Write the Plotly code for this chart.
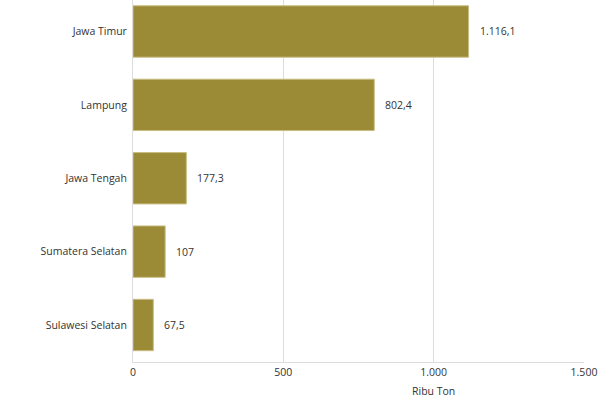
import plotly.graph_objects as go

provinces = ["Jawa Timur", "Lampung", "Jawa Tengah", "Sumatera Selatan", "Sulawesi Selatan"]
values = [1116.1, 802.4, 177.3, 107, 67.5]
value_labels = ["1.116,1", "802,4", "177,3", "107", "67,5"]
x_ticks = [0, 500, 1000, 1500]
x_tick_labels = ["0", "500", "1.000", "1.500"]

FONT = "Open Sans, Noto Sans, sans-serif"
fig = go.Figure()
fig.add_trace(go.Bar(
    y=provinces, x=values, orientation="h",
    marker=dict(color="#9c8b36", line=dict(color="#c9bd83", width=1)),
    width=0.7, hoverinfo="skip",
))
for p, v, t in zip(provinces, values, value_labels):
    fig.add_annotation(x=v, y=p, text=t, xanchor="left", yanchor="middle",
                       xshift=9, showarrow=False,
                       font=dict(size=10.5, color="#333333", family=FONT))
fig.add_annotation(x=1000, y=0, yref="paper", yanchor="middle", text="Ribu Ton",
                   showarrow=False, yshift=-29,
                   font=dict(size=10.5, color="#333333", family=FONT))
fig.update_layout(
    width=602, height=398,
    margin=dict(l=133, r=18, t=0, b=36),
    plot_bgcolor="white", paper_bgcolor="white",
    showlegend=False,
    font=dict(family=FONT, size=10.5, color="#333333"),
    xaxis=dict(range=[0, 1500], tickvals=x_ticks, ticktext=x_tick_labels,
               showgrid=True, gridcolor="#dddddd", gridwidth=1,
               showline=True, linecolor="#dddddd", zeroline=False,
               ticks="", ticklen=0, fixedrange=True, automargin=False),
    yaxis=dict(categoryorder="array", categoryarray=provinces,
               range=[4.504, -0.429], showgrid=False, zeroline=False,
               showline=True, linecolor="#dddddd", automargin=False,
               ticks="outside", ticklen=3, tickcolor="rgba(0,0,0,0)"),
)
fig.write_html("out.html", config={"displayModeBar": False, "staticPlot": True},
               post_script="document.body.style.margin='0';document.body.style.overflow='hidden';")
